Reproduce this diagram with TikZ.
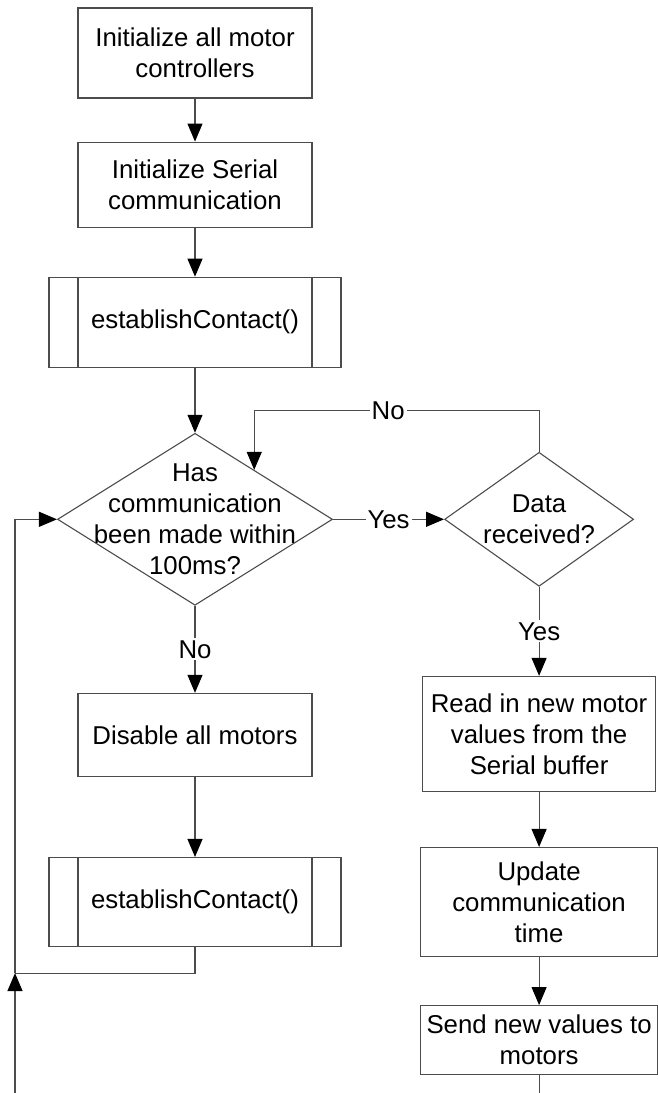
\documentclass[tikz,border=0pt]{standalone}
\usepackage{fontspec}
\setmainfont{Liberation Sans}
\usetikzlibrary{shapes.geometric, positioning, arrows.meta, calc}
\tikzset{
  flownode/.style = {align=center, inner sep=0pt, text centered, font=\fontsize{12.9}{15.5}\selectfont},
  tbox/.style = {flownode, rectangle, draw=black!70, line width=0.55pt, minimum width=117pt, minimum height=45pt},
  tsub/.style = {tbox, minimum width=146pt, path picture={
      \draw[black!70, line width=0.55pt]
        ([xshift=14.5pt]path picture bounding box.north west) -- ([xshift=14.5pt]path picture bounding box.south west)
        ([xshift=-14.5pt]path picture bounding box.north east) -- ([xshift=-14.5pt]path picture bounding box.south east);}},
  tdec/.style = {flownode, diamond, draw=black!70, line width=0.55pt},
  tlabel/.style = {flownode, fill=white, inner sep=1pt},
  flow/.style = {draw=black!70, line width=0.55pt},
  >={Triangle[length=9pt, width=7.5pt, color=black]},
}

\begin{document}
\begin{tikzpicture}
\node [tbox] (I1) {Initialize all motor\\controllers};
\useasboundingbox ($(I1.center)+(-97.5pt,26.5pt)$) rectangle ($(I1.center)+(231.5pt,-520pt)$);
\node [tbox, minimum height=42.5pt, below=21.5pt of I1] (I2) {Initialize Serial\\communication};
\node [tsub, below=24.5pt of I2] (C1) {establishContact()};
\node [tdec, minimum width=137.5pt, minimum height=86pt, below=32.5pt of C1,
  label={[flownode]center:Has\\communication\\been made within\\100ms?}] (D1) {};
\node [tdec, minimum width=94.5pt, minimum height=67pt, right=55.5pt of D1,
  label={[flownode]center:Data\\received?}] (D2) {};
\node [tbox, minimum height=41.5pt, below=43.5pt of D1] (M1) {Disable all motors};
\node [tsub, minimum height=44.5pt, below=40pt of M1] (C2) {establishContact()};
\node [tbox, minimum width=116.5pt, minimum height=57.5pt, below=44.5pt of D2] (R1) {Read in new motor\\values from the\\Serial buffer};
\node [tbox, minimum width=118.5pt, minimum height=54.5pt, below=27.5pt of R1] (U1) {Update\\communication\\time};
\node [tbox, minimum width=118.5pt, minimum height=34.5pt, below=24pt of U1] (T1) {Send new values to\\motors};

\coordinate (E) at ($(D1.north)!0.429!(D1.east)$);
\coordinate (J) at ($(C2.south)+(-90pt,-13pt)$);
\coordinate (B1) at ($(J)+(0,-63pt)$);
\coordinate (B2) at (T1.south |- B1);

\draw[->][flow] (I1) -- (I2);
\draw[->][flow] (I2) -- (C1);
\draw[->][flow] (C1) -- (D1);
\draw[->][flow] (D1) -- node [tlabel] {Yes} (D2);
\draw[->][flow] (D1) -- node [tlabel] {No} (M1);
\draw[->][flow] (D2) -- node [tlabel] {Yes} (R1);
\draw[->][flow] (D2.north) -- ++(0,20.5pt) -| node [tlabel, pos=0.265] {No} (E);
\draw[->][flow] (M1) -- (C2);
\draw[->][flow] (R1) -- (U1);
\draw[->][flow] (U1) -- (T1);
\draw[flow] (T1) -- (B2);
\draw[flow] (C2) |- (J);
\draw[->][flow] (B1) -- (J);
\draw[->][flow] (J) |- (D1.west);
\end{tikzpicture}
\end{document}
